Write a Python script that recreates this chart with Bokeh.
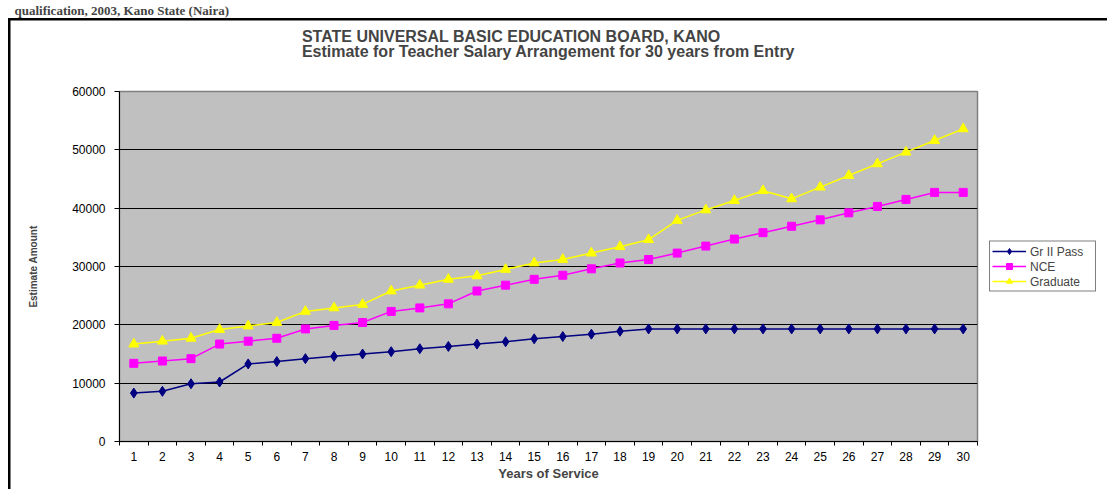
from bokeh.plotting import figure
from bokeh.embed import file_html
from bokeh.resources import INLINE
from bokeh.models import Legend, LegendItem, FixedTicker, Range1d, Title

# Salary estimates (Naira)
years = list(range(1, 31))
gr2_pass = [8300, 8600, 9900, 10200, 13300, 13700, 14200, 14600, 15000, 15400,
            15900, 16300, 16700, 17100, 17600, 18000, 18400, 18900, 19300, 19300,
            19300, 19300, 19300, 19300, 19300, 19300, 19300, 19300, 19300, 19300]
nce = [13400, 13800, 14200, 16700, 17200, 17700, 19300, 19900, 20400, 22300,
       22900, 23600, 25800, 26800, 27800, 28500, 29600, 30600, 31200, 32300,
       33500, 34700, 35800, 36900, 38000, 39200, 40300, 41500, 42700, 42700]
graduate = [16700, 17200, 17700, 19200, 19800, 20400, 22300, 22900, 23500, 25800,
            26800, 27800, 28400, 29500, 30600, 31200, 32300, 33400, 34600, 37900,
            39700, 41300, 43000, 41600, 43600, 45600, 47600, 49600, 51600, 53600]
y_ticks = [0, 10000, 20000, 30000, 40000, 50000, 60000]

FONT = "Liberation Sans"

# plot area fixed at 858 x 350, borders make up the 1107 x 489 page
p = figure(frame_width=858, frame_height=350, output_backend="svg", toolbar_location=None,
           x_range=Range1d(0.5, 30.5), y_range=Range1d(0, 60000))
p.min_border_left = 119
p.min_border_right = 130
p.min_border_top = 91
p.min_border_bottom = 48

p.background_fill_color = "#C0C0C0"
p.border_fill_color = None
p.outline_line_color = "#808080"
p.outline_line_width = 1.5

# black frame of the chart object (left and top edges), drawn behind the canvas
p.styles = {"background-image": "linear-gradient(black, black), linear-gradient(black, black)",
            "background-size": "100% 2.5px, 2.5px 100%",
            "background-position": "7.5px 18px, 7.5px 18px",
            "background-repeat": "no-repeat"}

# grid: only horizontal black lines
p.xgrid.grid_line_color = None
p.ygrid.ticker = FixedTicker(ticks=y_ticks[1:-1])
p.ygrid.grid_line_color = "black"
p.ygrid.grid_line_width = 1

# y axis
p.yaxis.ticker = FixedTicker(ticks=y_ticks)
p.yaxis.axis_line_color = "black"
p.yaxis.major_tick_line_color = "black"
p.yaxis.major_tick_out = 5
p.yaxis.major_tick_in = 0
p.yaxis.minor_tick_line_color = None
p.yaxis.major_label_standoff = 9
p.yaxis.major_label_text_font = FONT
p.yaxis.major_label_text_font_size = "12px"
p.yaxis.major_label_text_color = "black"
p.yaxis.axis_label = "Estimate Amount"
p.yaxis.axis_label_text_font = FONT
p.yaxis.axis_label_text_font_style = "bold"
p.yaxis.axis_label_text_font_size = "10px"
p.yaxis.axis_label_standoff = 30

# x axis: labels at the centre, ticks between the years
p.xaxis.ticker = FixedTicker(ticks=years, minor_ticks=[y - 0.5 for y in years] + [30.5])
p.xaxis.axis_line_color = "black"
p.xaxis.major_tick_line_color = None
p.xaxis.minor_tick_line_color = "black"
p.xaxis.minor_tick_out = 4
p.xaxis.minor_tick_in = 0
p.xaxis.major_label_standoff = 4
p.xaxis.major_label_text_font = FONT
p.xaxis.major_label_text_font_size = "12px"
p.xaxis.major_label_text_color = "black"
p.xaxis.axis_label = "Years of Service"
p.xaxis.axis_label_text_font = FONT
p.xaxis.axis_label_text_font_style = "bold"
p.xaxis.axis_label_text_font_size = "13px"
p.xaxis.axis_label_standoff = 2

# the three series
l1 = p.line(years, gr2_pass, line_color="#000080", line_width=1.5)
m1 = p.scatter(years, gr2_pass, marker="diamond", size=10, fill_color="#000080", line_color="#000080")
l2 = p.line(years, nce, line_color="#FF00FF", line_width=1.5)
m2 = p.scatter(years, nce, marker="square", size=8, fill_color="#FF00FF", line_color="#FF00FF")
l3 = p.line(years, graduate, line_color="#FFFF00", line_width=1.5)
m3 = p.scatter(years, graduate, marker="triangle", size=10, fill_color="#FFFF00", line_color="#FFFF00")

legend = Legend(items=[LegendItem(label="Gr II Pass", renderers=[l1, m1]),
                       LegendItem(label="NCE", renderers=[l2, m2]),
                       LegendItem(label="Graduate", renderers=[l3, m3])],
                location="center_left", margin=12, padding=2, spacing=0,
                glyph_width=34, glyph_height=15, label_height=15, label_width=63,
                label_standoff=4, label_text_font=FONT, label_text_font_size="12px",
                border_line_color="black", border_line_width=1,
                background_fill_color="white", background_fill_alpha=1)
p.add_layout(legend, "right")

# titles, stacked upwards from the plot area (blank ones only make room)
p.add_layout(Title(text=" ", text_font_size="10px", standoff=18), "above")
p.add_layout(Title(text="STATE UNIVERSAL BASIC EDUCATION BOARD, KANO\n"
                        "Estimate for Teacher Salary Arrangement for 30 years from Entry",
                   align="center", standoff=0, text_font=FONT, text_font_style="bold",
                   text_font_size="16px", text_line_height=0.92), "above")
p.add_layout(Title(text=" ", text_font_size="2px", standoff=2), "above")
p.add_layout(Title(text="qualification, 2003, Kano State (Naira)",
                   align="left", offset=-105, standoff=0, vertical_align="top",
                   text_font="Liberation Serif", text_font_style="bold",
                   text_font_size="13px"), "above")

open("out.html", "w").write(file_html(p, INLINE))
